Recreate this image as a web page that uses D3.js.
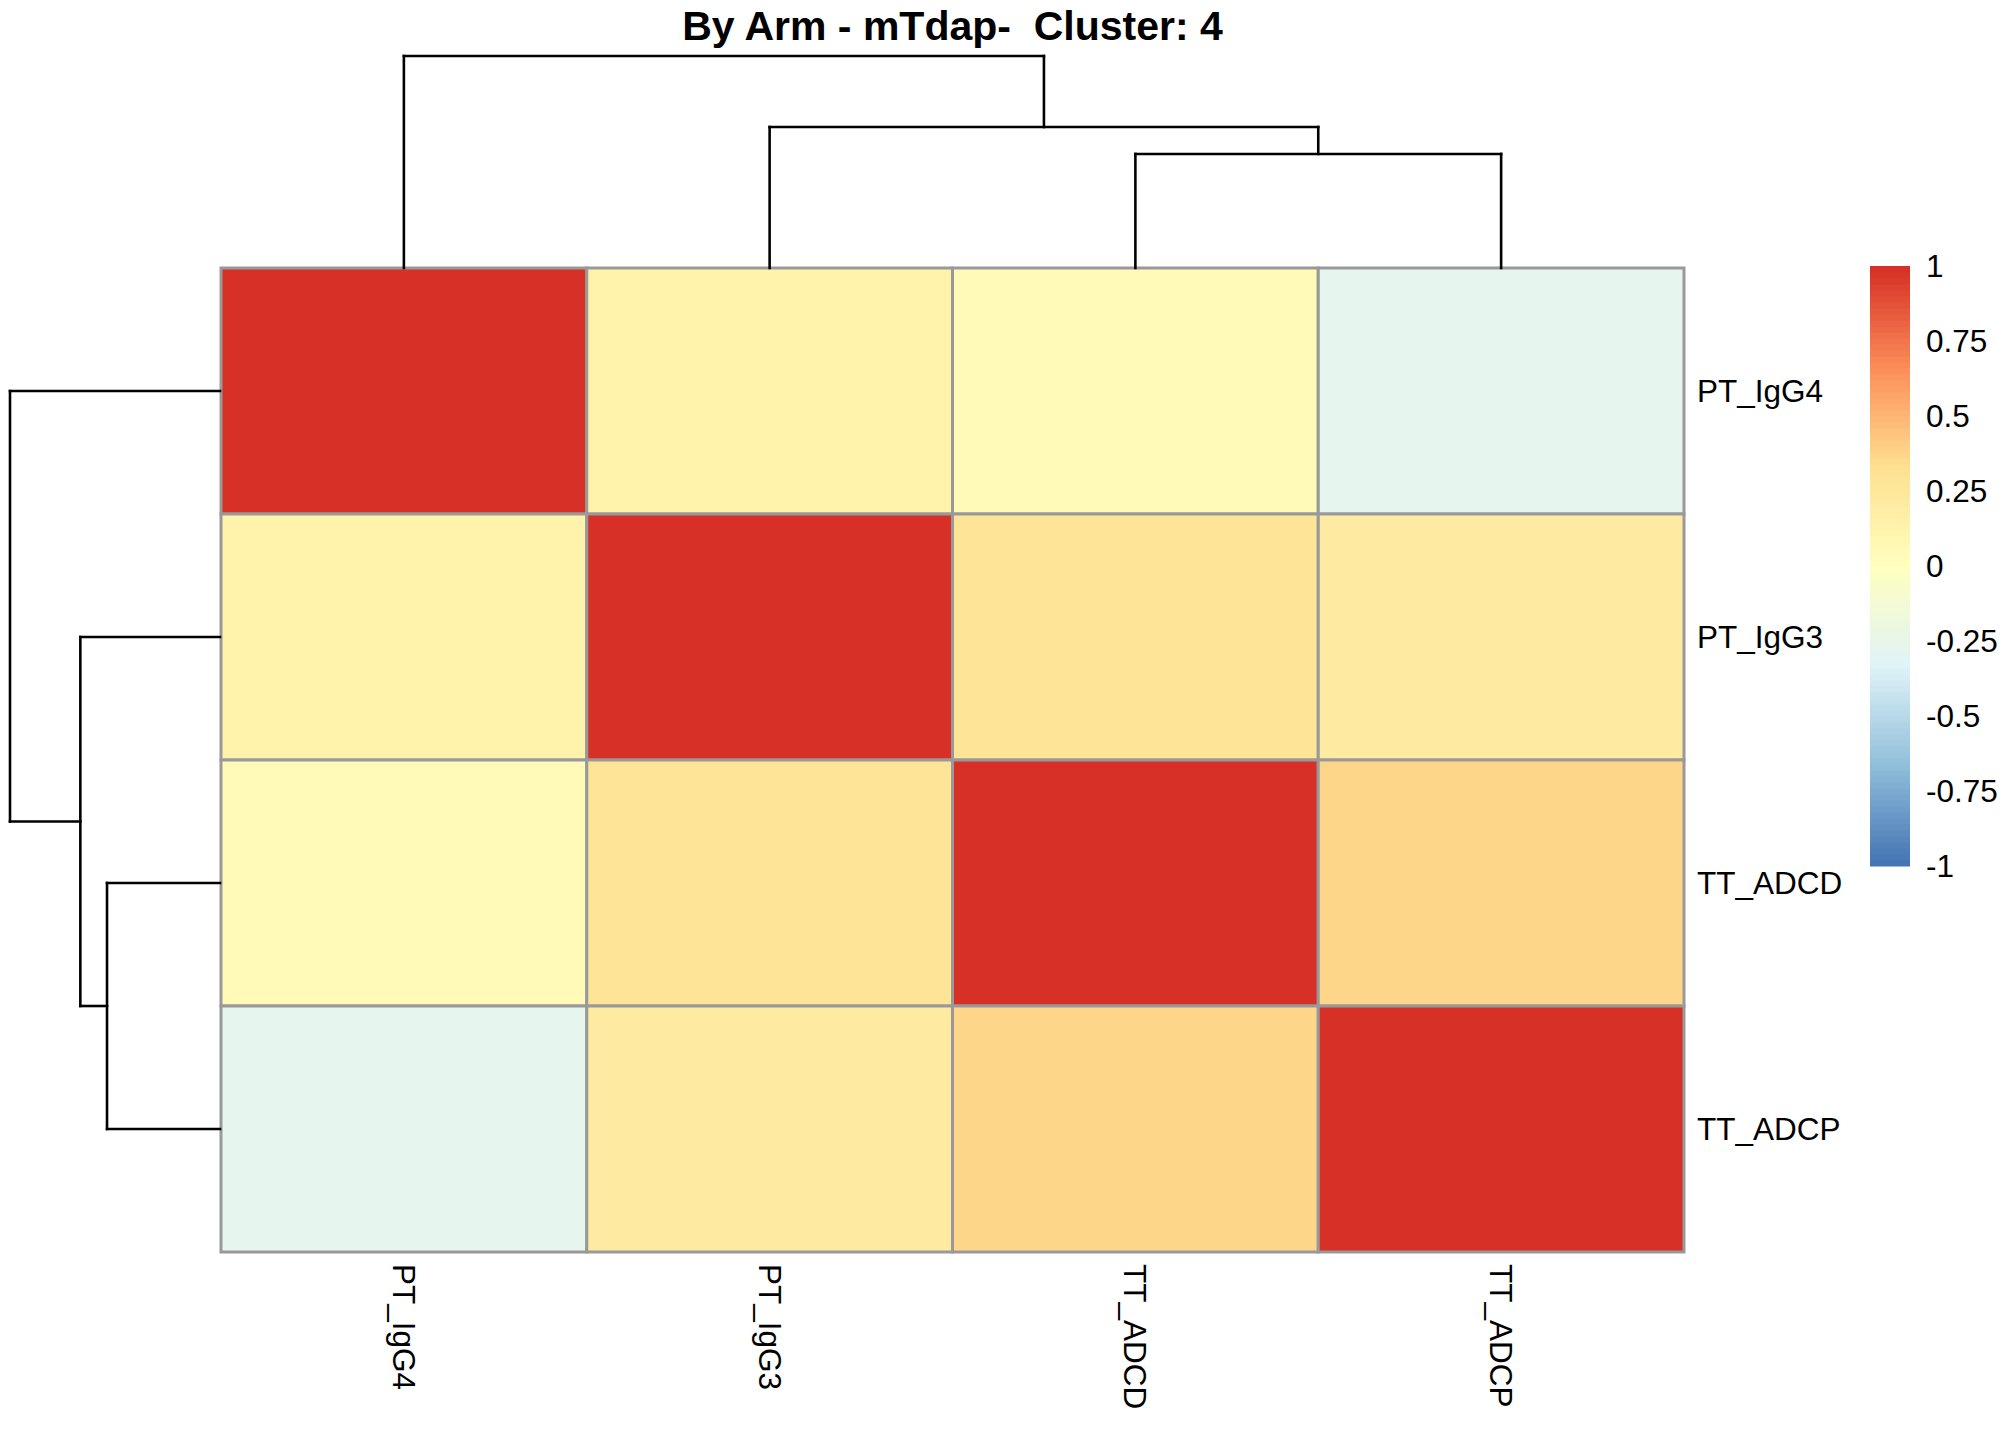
<!DOCTYPE html>
<html>
<head>
<meta charset="utf-8">
<script src="https://cdn.jsdelivr.net/npm/d3@7"></script>
<style>
  body { margin: 0; background: #fff; }
  text { font-family: "Liberation Sans", Arial, sans-serif; fill: #000; white-space: pre; }
</style>
</head>
<body>
<svg id="chart" width="2016" height="1440"></svg>
<script>
// DATA
const title = "By Arm - mTdap-  Cluster: 4";
const labels = ["PT_IgG4", "PT_IgG3", "TT_ADCD", "TT_ADCP"];

// correlation rows, same order as labels
const rowPT_IgG4 = [1.00, 0.12, 0.05, -0.27];
const rowPT_IgG3 = [0.12, 1.00, 0.29, 0.21];
const rowTT_ADCD = [0.05, 0.29, 1.00, 0.36];
const rowTT_ADCP = [-0.27, 0.21, 0.36, 1.00];
const matrix = [rowPT_IgG4, rowPT_IgG3, rowTT_ADCD, rowTT_ADCP];

// hclust style merges (negative = leaf index+1, positive = earlier merge) and heights
const merges = [[-3, -4], [-2, 1], [-1, 2]];
const mergeHeights = [0.538, 0.665, 1.0];

// legend
const legendTicks = [1, 0.75, 0.5, 0.25, 0, -0.25, -0.5, -0.75, -1];
const baseColors = ["#4575B4", "#91BFDB", "#E0F3F8", "#FFFFBF", "#FEE090", "#FC8D59", "#D73027"];

// LAYOUT
const hm = { left: 221, right: 1684, top: 268, bottom: 1252 };
const leg = { left: 1870, right: 1910, top: 266, bottom: 866 };
const fontSize = 31.5;

const svg = d3.select("#chart");

// 100 step palette like colorRampPalette(rev(brewer.pal(7, "RdYlBu")))(100)
const ramp = d3.piecewise(d3.interpolateRgb, baseColors);
const palette = d3.range(100).map(i => ramp(i / 99));
const color = d3.scaleQuantize().domain([-1, 1]).range(palette);

const x = d3.scaleBand().domain(labels).range([hm.left, hm.right]);
const y = d3.scaleBand().domain(labels).range([hm.top, hm.bottom]);

// cells
let cells = [];
matrix.forEach((row, i) => row.forEach((v, j) => cells.push({ r: labels[i], c: labels[j], value: v })));

svg.append("g")
  .selectAll("rect")
  .data(cells)
  .enter().append("rect")
    .attr("x", d => x(d.c))
    .attr("y", d => y(d.r))
    .attr("width", x.bandwidth())
    .attr("height", y.bandwidth())
    .attr("fill", d => color(d.value))
    .attr("stroke", "#999999")
    .attr("stroke-width", 3);

// dendrogram segments from merges
function dendroSegments(pos) {
  let nodes = []; // {p, h}
  const get = k => k < 0 ? { p: pos(labels[-k - 1]), h: 0 } : nodes[k - 1];
  let segs = [];
  merges.forEach((m, i) => {
    const a = get(m[0]), b = get(m[1]), h = mergeHeights[i];
    segs.push({ p1: a.p, h1: a.h, p2: a.p, h2: h });
    segs.push({ p1: b.p, h1: b.h, p2: b.p, h2: h });
    segs.push({ p1: a.p, h1: h, p2: b.p, h2: h });
    nodes.push({ p: (a.p + b.p) / 2, h: h });
  });
  return segs;
}

const maxH = d3.max(mergeHeights);
const colH = d3.scaleLinear().domain([0, maxH]).range([hm.top, 56]);
const rowH = d3.scaleLinear().domain([0, maxH]).range([hm.left - 1, 10]);
const cx = l => x(l) + x.bandwidth() / 2;
const cy = l => y(l) + y.bandwidth() / 2;

svg.append("g")
  .selectAll("line")
  .data(dendroSegments(cx))
  .enter().append("line")
    .attr("x1", d => d.p1).attr("x2", d => d.p2)
    .attr("y1", d => colH(d.h1)).attr("y2", d => colH(d.h2))
    .attr("stroke", "#000").attr("stroke-width", 2.6)
    .attr("stroke-linecap", "square");

svg.append("g")
  .selectAll("line")
  .data(dendroSegments(cy))
  .enter().append("line")
    .attr("y1", d => d.p1).attr("y2", d => d.p2)
    .attr("x1", d => rowH(d.h1)).attr("x2", d => rowH(d.h2))
    .attr("stroke", "#000").attr("stroke-width", 2.6)
    .attr("stroke-linecap", "square");

// row labels
svg.append("g")
  .selectAll("text")
  .data(labels)
  .enter().append("text")
    .attr("x", hm.right + 13)
    .attr("y", d => cy(d))
    .attr("dominant-baseline", "central")
    .attr("font-size", fontSize)
    .text(d => d);

// column labels, rotated
svg.append("g")
  .selectAll("text")
  .data(labels)
  .enter().append("text")
    .attr("transform", d => `translate(${cx(d)}, ${hm.bottom + 12}) rotate(90)`)
    .attr("dominant-baseline", "central")
    .attr("font-size", fontSize)
    .text(d => d);

// title
svg.append("text")
  .attr("x", (hm.left + hm.right) / 2)
  .attr("y", 40)
  .attr("text-anchor", "middle")
  .attr("font-size", 41)
  .attr("font-weight", "bold")
  .text(title);

// legend bar
const legY = d3.scaleLinear().domain([1, -1]).range([leg.top, leg.bottom]);
const legendSteps = d3.range(100).map(i => -1 + i * 0.02);

svg.append("g")
  .selectAll("rect")
  .data(legendSteps)
  .enter().append("rect")
    .attr("x", leg.left)
    .attr("width", leg.right - leg.left)
    .attr("y", d => legY(d + 0.02))
    .attr("height", legY(-1) - legY(-0.98) + 0.5)
    .attr("fill", d => color(d + 0.01));

svg.append("g")
  .selectAll("text")
  .data(legendTicks)
  .enter().append("text")
    .attr("x", leg.right + 16)
    .attr("y", d => legY(d))
    .attr("dominant-baseline", "central")
    .attr("font-size", fontSize)
    .text(d => d);
</script>
</body>
</html>
